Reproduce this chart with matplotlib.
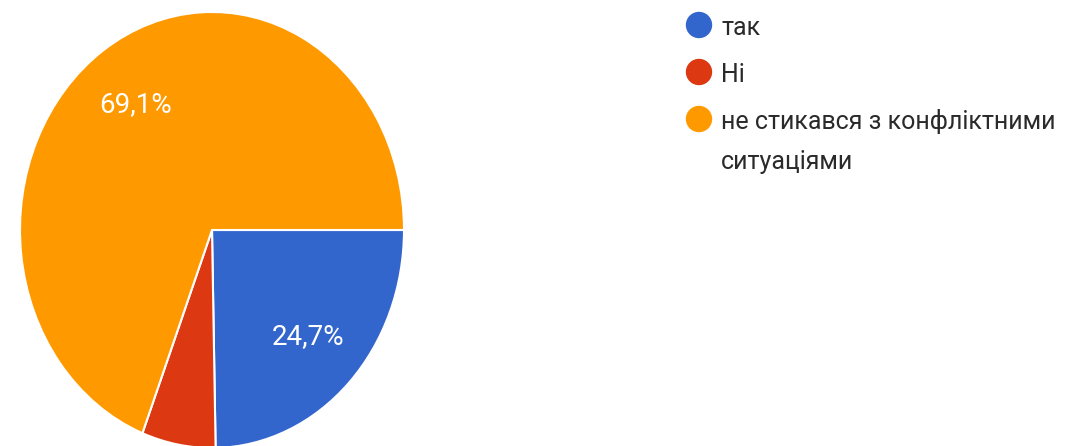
import matplotlib
matplotlib.use("Agg")
import matplotlib.pyplot as plt

categories = ["так", "Ні", "не стикався з конфліктними ситуаціями"]
legend_lines = ["так", "Ні", "не стикався з конфліктними\nситуаціями"]
values = [24.7, 6.2, 69.1]
colors = ["#3366CC", "#DC3912", "#FF9900"]

plt.rcParams["font.family"] = ["Roboto", "DejaVu Sans"]

W, H = 1071, 446
fig = plt.figure(figsize=(W / 100, H / 100), dpi=100)

# pie axes (slightly vertically stretched like the reference)
cx, cy, rx, ry = 212, 230, 192, 218
ax = fig.add_axes([(cx - rx) / W, (H - (cy + ry)) / H, 2 * rx / W, 2 * ry / H])


def fmt(p):
    return (f"{p:.1f}%".replace(".", ",")) if p >= 10 else ""


wedges, texts, autotexts = ax.pie(
    values,
    colors=colors,
    startangle=0,
    counterclock=False,
    autopct=fmt,
    pctdistance=0.70,
    wedgeprops=dict(edgecolor="white", linewidth=1.5),
    textprops=dict(color="white", fontsize=20),
)
ax.set_aspect("auto")
ax.set_xlim(-1, 1)
ax.set_ylim(-1, 1)
ax.axis("off")

# legend drawn in pixel coordinates
lax = fig.add_axes([0, 0, 1, 1])
lax.set_xlim(0, W)
lax.set_ylim(H, 0)
lax.axis("off")
marker_y = [25, 72, 119]
for lbl, col, y in zip(legend_lines, colors, marker_y):
    lax.scatter([699], [y], s=19 ** 2, color=col, edgecolors="none")
    for i, line in enumerate(lbl.split("\n")):
        lax.text(721, y + 10 + i * 40, line, fontsize=18, color="#2a2a2a",
                 va="baseline")

fig.savefig("out.png", dpi=100, facecolor="white")
